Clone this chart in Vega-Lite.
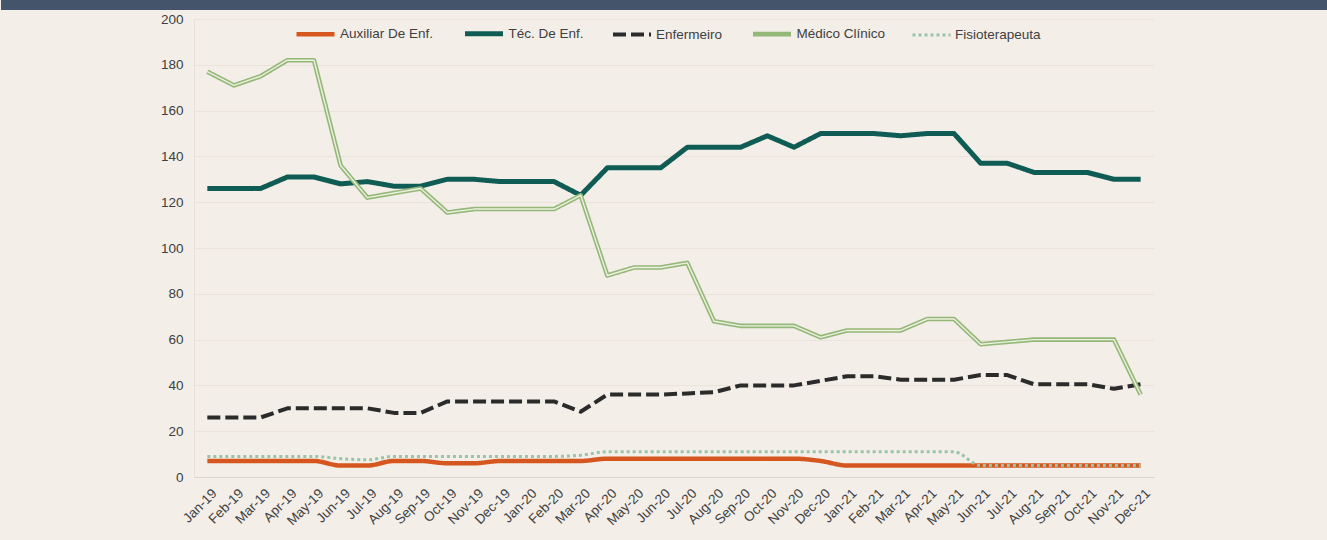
{
  "$schema": "https://vega.github.io/schema/vega-lite/v6.json",
  "background": "#f3eee8",
  "padding": {"left": 0, "right": 0, "top": 0, "bottom": 14},
  "spacing": 2,
  "datasets": {
    "series": [
      {"mes": "Jan-19", "serie": "Auxiliar De Enf.", "valor": 7},
      {"mes": "Feb-19", "serie": "Auxiliar De Enf.", "valor": 7},
      {"mes": "Mar-19", "serie": "Auxiliar De Enf.", "valor": 7},
      {"mes": "Apr-19", "serie": "Auxiliar De Enf.", "valor": 7},
      {"mes": "May-19", "serie": "Auxiliar De Enf.", "valor": 7},
      {"mes": "Jun-19", "serie": "Auxiliar De Enf.", "valor": 5},
      {"mes": "Jul-19", "serie": "Auxiliar De Enf.", "valor": 5},
      {"mes": "Aug-19", "serie": "Auxiliar De Enf.", "valor": 7},
      {"mes": "Sep-19", "serie": "Auxiliar De Enf.", "valor": 7},
      {"mes": "Oct-19", "serie": "Auxiliar De Enf.", "valor": 6},
      {"mes": "Nov-19", "serie": "Auxiliar De Enf.", "valor": 6},
      {"mes": "Dec-19", "serie": "Auxiliar De Enf.", "valor": 7},
      {"mes": "Jan-20", "serie": "Auxiliar De Enf.", "valor": 7},
      {"mes": "Feb-20", "serie": "Auxiliar De Enf.", "valor": 7},
      {"mes": "Mar-20", "serie": "Auxiliar De Enf.", "valor": 7},
      {"mes": "Apr-20", "serie": "Auxiliar De Enf.", "valor": 8},
      {"mes": "May-20", "serie": "Auxiliar De Enf.", "valor": 8},
      {"mes": "Jun-20", "serie": "Auxiliar De Enf.", "valor": 8},
      {"mes": "Jul-20", "serie": "Auxiliar De Enf.", "valor": 8},
      {"mes": "Aug-20", "serie": "Auxiliar De Enf.", "valor": 8},
      {"mes": "Sep-20", "serie": "Auxiliar De Enf.", "valor": 8},
      {"mes": "Oct-20", "serie": "Auxiliar De Enf.", "valor": 8},
      {"mes": "Nov-20", "serie": "Auxiliar De Enf.", "valor": 8},
      {"mes": "Dec-20", "serie": "Auxiliar De Enf.", "valor": 7},
      {"mes": "Jan-21", "serie": "Auxiliar De Enf.", "valor": 5},
      {"mes": "Feb-21", "serie": "Auxiliar De Enf.", "valor": 5},
      {"mes": "Mar-21", "serie": "Auxiliar De Enf.", "valor": 5},
      {"mes": "Apr-21", "serie": "Auxiliar De Enf.", "valor": 5},
      {"mes": "May-21", "serie": "Auxiliar De Enf.", "valor": 5},
      {"mes": "Jun-21", "serie": "Auxiliar De Enf.", "valor": 5},
      {"mes": "Jul-21", "serie": "Auxiliar De Enf.", "valor": 5},
      {"mes": "Aug-21", "serie": "Auxiliar De Enf.", "valor": 5},
      {"mes": "Sep-21", "serie": "Auxiliar De Enf.", "valor": 5},
      {"mes": "Oct-21", "serie": "Auxiliar De Enf.", "valor": 5},
      {"mes": "Nov-21", "serie": "Auxiliar De Enf.", "valor": 5},
      {"mes": "Dec-21", "serie": "Auxiliar De Enf.", "valor": 5},

      {"mes": "Jan-19", "serie": "Téc. De Enf.", "valor": 126},
      {"mes": "Feb-19", "serie": "Téc. De Enf.", "valor": 126},
      {"mes": "Mar-19", "serie": "Téc. De Enf.", "valor": 126},
      {"mes": "Apr-19", "serie": "Téc. De Enf.", "valor": 131},
      {"mes": "May-19", "serie": "Téc. De Enf.", "valor": 131},
      {"mes": "Jun-19", "serie": "Téc. De Enf.", "valor": 128},
      {"mes": "Jul-19", "serie": "Téc. De Enf.", "valor": 129},
      {"mes": "Aug-19", "serie": "Téc. De Enf.", "valor": 127},
      {"mes": "Sep-19", "serie": "Téc. De Enf.", "valor": 127},
      {"mes": "Oct-19", "serie": "Téc. De Enf.", "valor": 130},
      {"mes": "Nov-19", "serie": "Téc. De Enf.", "valor": 130},
      {"mes": "Dec-19", "serie": "Téc. De Enf.", "valor": 129},
      {"mes": "Jan-20", "serie": "Téc. De Enf.", "valor": 129},
      {"mes": "Feb-20", "serie": "Téc. De Enf.", "valor": 129},
      {"mes": "Mar-20", "serie": "Téc. De Enf.", "valor": 123},
      {"mes": "Apr-20", "serie": "Téc. De Enf.", "valor": 135},
      {"mes": "May-20", "serie": "Téc. De Enf.", "valor": 135},
      {"mes": "Jun-20", "serie": "Téc. De Enf.", "valor": 135},
      {"mes": "Jul-20", "serie": "Téc. De Enf.", "valor": 144},
      {"mes": "Aug-20", "serie": "Téc. De Enf.", "valor": 144},
      {"mes": "Sep-20", "serie": "Téc. De Enf.", "valor": 144},
      {"mes": "Oct-20", "serie": "Téc. De Enf.", "valor": 149},
      {"mes": "Nov-20", "serie": "Téc. De Enf.", "valor": 144},
      {"mes": "Dec-20", "serie": "Téc. De Enf.", "valor": 150},
      {"mes": "Jan-21", "serie": "Téc. De Enf.", "valor": 150},
      {"mes": "Feb-21", "serie": "Téc. De Enf.", "valor": 150},
      {"mes": "Mar-21", "serie": "Téc. De Enf.", "valor": 149},
      {"mes": "Apr-21", "serie": "Téc. De Enf.", "valor": 150},
      {"mes": "May-21", "serie": "Téc. De Enf.", "valor": 150},
      {"mes": "Jun-21", "serie": "Téc. De Enf.", "valor": 137},
      {"mes": "Jul-21", "serie": "Téc. De Enf.", "valor": 137},
      {"mes": "Aug-21", "serie": "Téc. De Enf.", "valor": 133},
      {"mes": "Sep-21", "serie": "Téc. De Enf.", "valor": 133},
      {"mes": "Oct-21", "serie": "Téc. De Enf.", "valor": 133},
      {"mes": "Nov-21", "serie": "Téc. De Enf.", "valor": 130},
      {"mes": "Dec-21", "serie": "Téc. De Enf.", "valor": 130},

      {"mes": "Jan-19", "serie": "Enfermeiro", "valor": 26},
      {"mes": "Feb-19", "serie": "Enfermeiro", "valor": 26},
      {"mes": "Mar-19", "serie": "Enfermeiro", "valor": 26},
      {"mes": "Apr-19", "serie": "Enfermeiro", "valor": 30},
      {"mes": "May-19", "serie": "Enfermeiro", "valor": 30},
      {"mes": "Jun-19", "serie": "Enfermeiro", "valor": 30},
      {"mes": "Jul-19", "serie": "Enfermeiro", "valor": 30},
      {"mes": "Aug-19", "serie": "Enfermeiro", "valor": 28},
      {"mes": "Sep-19", "serie": "Enfermeiro", "valor": 28},
      {"mes": "Oct-19", "serie": "Enfermeiro", "valor": 33},
      {"mes": "Nov-19", "serie": "Enfermeiro", "valor": 33},
      {"mes": "Dec-19", "serie": "Enfermeiro", "valor": 33},
      {"mes": "Jan-20", "serie": "Enfermeiro", "valor": 33},
      {"mes": "Feb-20", "serie": "Enfermeiro", "valor": 33},
      {"mes": "Mar-20", "serie": "Enfermeiro", "valor": 28.5},
      {"mes": "Apr-20", "serie": "Enfermeiro", "valor": 36},
      {"mes": "May-20", "serie": "Enfermeiro", "valor": 36},
      {"mes": "Jun-20", "serie": "Enfermeiro", "valor": 36},
      {"mes": "Jul-20", "serie": "Enfermeiro", "valor": 36.5},
      {"mes": "Aug-20", "serie": "Enfermeiro", "valor": 37},
      {"mes": "Sep-20", "serie": "Enfermeiro", "valor": 40},
      {"mes": "Oct-20", "serie": "Enfermeiro", "valor": 40},
      {"mes": "Nov-20", "serie": "Enfermeiro", "valor": 40},
      {"mes": "Dec-20", "serie": "Enfermeiro", "valor": 42},
      {"mes": "Jan-21", "serie": "Enfermeiro", "valor": 44},
      {"mes": "Feb-21", "serie": "Enfermeiro", "valor": 44},
      {"mes": "Mar-21", "serie": "Enfermeiro", "valor": 42.5},
      {"mes": "Apr-21", "serie": "Enfermeiro", "valor": 42.5},
      {"mes": "May-21", "serie": "Enfermeiro", "valor": 42.5},
      {"mes": "Jun-21", "serie": "Enfermeiro", "valor": 44.5},
      {"mes": "Jul-21", "serie": "Enfermeiro", "valor": 44.5},
      {"mes": "Aug-21", "serie": "Enfermeiro", "valor": 40.5},
      {"mes": "Sep-21", "serie": "Enfermeiro", "valor": 40.5},
      {"mes": "Oct-21", "serie": "Enfermeiro", "valor": 40.5},
      {"mes": "Nov-21", "serie": "Enfermeiro", "valor": 38.5},
      {"mes": "Dec-21", "serie": "Enfermeiro", "valor": 40.5},

      {"mes": "Jan-19", "serie": "Médico Clínico", "valor": 177},
      {"mes": "Feb-19", "serie": "Médico Clínico", "valor": 171},
      {"mes": "Mar-19", "serie": "Médico Clínico", "valor": 175},
      {"mes": "Apr-19", "serie": "Médico Clínico", "valor": 182},
      {"mes": "May-19", "serie": "Médico Clínico", "valor": 182},
      {"mes": "Jun-19", "serie": "Médico Clínico", "valor": 136},
      {"mes": "Jul-19", "serie": "Médico Clínico", "valor": 122},
      {"mes": "Aug-19", "serie": "Médico Clínico", "valor": 124},
      {"mes": "Sep-19", "serie": "Médico Clínico", "valor": 126},
      {"mes": "Oct-19", "serie": "Médico Clínico", "valor": 115.5},
      {"mes": "Nov-19", "serie": "Médico Clínico", "valor": 117},
      {"mes": "Dec-19", "serie": "Médico Clínico", "valor": 117},
      {"mes": "Jan-20", "serie": "Médico Clínico", "valor": 117},
      {"mes": "Feb-20", "serie": "Médico Clínico", "valor": 117},
      {"mes": "Mar-20", "serie": "Médico Clínico", "valor": 123},
      {"mes": "Apr-20", "serie": "Médico Clínico", "valor": 88},
      {"mes": "May-20", "serie": "Médico Clínico", "valor": 91.5},
      {"mes": "Jun-20", "serie": "Médico Clínico", "valor": 91.5},
      {"mes": "Jul-20", "serie": "Médico Clínico", "valor": 93.5},
      {"mes": "Aug-20", "serie": "Médico Clínico", "valor": 68},
      {"mes": "Sep-20", "serie": "Médico Clínico", "valor": 66},
      {"mes": "Oct-20", "serie": "Médico Clínico", "valor": 66},
      {"mes": "Nov-20", "serie": "Médico Clínico", "valor": 66},
      {"mes": "Dec-20", "serie": "Médico Clínico", "valor": 61},
      {"mes": "Jan-21", "serie": "Médico Clínico", "valor": 64},
      {"mes": "Feb-21", "serie": "Médico Clínico", "valor": 64},
      {"mes": "Mar-21", "serie": "Médico Clínico", "valor": 64},
      {"mes": "Apr-21", "serie": "Médico Clínico", "valor": 69},
      {"mes": "May-21", "serie": "Médico Clínico", "valor": 69},
      {"mes": "Jun-21", "serie": "Médico Clínico", "valor": 58},
      {"mes": "Jul-21", "serie": "Médico Clínico", "valor": 59},
      {"mes": "Aug-21", "serie": "Médico Clínico", "valor": 60},
      {"mes": "Sep-21", "serie": "Médico Clínico", "valor": 60},
      {"mes": "Oct-21", "serie": "Médico Clínico", "valor": 60},
      {"mes": "Nov-21", "serie": "Médico Clínico", "valor": 60},
      {"mes": "Dec-21", "serie": "Médico Clínico", "valor": 36},

      {"mes": "Jan-19", "serie": "Fisioterapeuta", "valor": 9},
      {"mes": "Feb-19", "serie": "Fisioterapeuta", "valor": 9},
      {"mes": "Mar-19", "serie": "Fisioterapeuta", "valor": 9},
      {"mes": "Apr-19", "serie": "Fisioterapeuta", "valor": 9},
      {"mes": "May-19", "serie": "Fisioterapeuta", "valor": 9},
      {"mes": "Jun-19", "serie": "Fisioterapeuta", "valor": 8},
      {"mes": "Jul-19", "serie": "Fisioterapeuta", "valor": 7.5},
      {"mes": "Aug-19", "serie": "Fisioterapeuta", "valor": 9},
      {"mes": "Sep-19", "serie": "Fisioterapeuta", "valor": 9},
      {"mes": "Oct-19", "serie": "Fisioterapeuta", "valor": 9},
      {"mes": "Nov-19", "serie": "Fisioterapeuta", "valor": 9},
      {"mes": "Dec-19", "serie": "Fisioterapeuta", "valor": 9},
      {"mes": "Jan-20", "serie": "Fisioterapeuta", "valor": 9},
      {"mes": "Feb-20", "serie": "Fisioterapeuta", "valor": 9},
      {"mes": "Mar-20", "serie": "Fisioterapeuta", "valor": 9.5},
      {"mes": "Apr-20", "serie": "Fisioterapeuta", "valor": 11},
      {"mes": "May-20", "serie": "Fisioterapeuta", "valor": 11},
      {"mes": "Jun-20", "serie": "Fisioterapeuta", "valor": 11},
      {"mes": "Jul-20", "serie": "Fisioterapeuta", "valor": 11},
      {"mes": "Aug-20", "serie": "Fisioterapeuta", "valor": 11},
      {"mes": "Sep-20", "serie": "Fisioterapeuta", "valor": 11},
      {"mes": "Oct-20", "serie": "Fisioterapeuta", "valor": 11},
      {"mes": "Nov-20", "serie": "Fisioterapeuta", "valor": 11},
      {"mes": "Dec-20", "serie": "Fisioterapeuta", "valor": 11},
      {"mes": "Jan-21", "serie": "Fisioterapeuta", "valor": 11},
      {"mes": "Feb-21", "serie": "Fisioterapeuta", "valor": 11},
      {"mes": "Mar-21", "serie": "Fisioterapeuta", "valor": 11},
      {"mes": "Apr-21", "serie": "Fisioterapeuta", "valor": 11},
      {"mes": "May-21", "serie": "Fisioterapeuta", "valor": 11},
      {"mes": "Jun-21", "serie": "Fisioterapeuta", "valor": 5},
      {"mes": "Jul-21", "serie": "Fisioterapeuta", "valor": 5},
      {"mes": "Aug-21", "serie": "Fisioterapeuta", "valor": 5},
      {"mes": "Sep-21", "serie": "Fisioterapeuta", "valor": 5},
      {"mes": "Oct-21", "serie": "Fisioterapeuta", "valor": 5},
      {"mes": "Nov-21", "serie": "Fisioterapeuta", "valor": 5},
      {"mes": "Dec-21", "serie": "Fisioterapeuta", "valor": 5}
    ]
  },
  "vconcat": [
    {
      "width": 1133,
      "height": 10,
      "data": {"values": []},
      "mark": "point",
      "view": {"fill": "#44546a", "stroke": null},
      "encoding": {
        "y": {
          "field": "faixa",
          "type": "quantitative",
          "title": null,
          "scale": {"domain": [0, 1]},
          "axis": {
            "values": [0.1, 0.2, 0.3, 0.4, 0.5, 0.6, 0.7, 0.8, 0.9],
            "translate": 0,
            "ticks": true,
            "tickSize": 193,
            "tickWidth": 2,
            "tickColor": "#44546a",
            "tickCap": "butt",
            "labels": false,
            "domain": false,
            "grid": false,
            "minExtent": 194,
            "maxExtent": 194
          }
        }
      }
    },
    {
      "width": 960,
      "height": 458,
      "data": {"name": "series"},
      "encoding": {
        "x": {
          "field": "mes",
          "type": "ordinal",
          "title": null,
          "scale": {
            "type": "point",
            "padding": 0.5,
            "domain": ["Jan-19","Feb-19","Mar-19","Apr-19","May-19","Jun-19","Jul-19","Aug-19","Sep-19","Oct-19","Nov-19","Dec-19",
                       "Jan-20","Feb-20","Mar-20","Apr-20","May-20","Jun-20","Jul-20","Aug-20","Sep-20","Oct-20","Nov-20","Dec-20",
                       "Jan-21","Feb-21","Mar-21","Apr-21","May-21","Jun-21","Jul-21","Aug-21","Sep-21","Oct-21","Nov-21","Dec-21"]
          },
          "axis": {
            "labelAngle": -45,
            "labelAlign": "right",
            "labelBaseline": "top",
            "labelPadding": 9,
            "labelOffset": 2,
            "ticks": false,
            "grid": false,
            "domainColor": "#d9d4cc"
          }
        },
        "y": {
          "field": "valor",
          "type": "quantitative",
          "title": null,
          "scale": {"domain": [0, 200], "nice": false},
          "axis": {
            "values": [0, 20, 40, 60, 80, 100, 120, 140, 160, 180, 200],
            "grid": true,
            "gridColor": "#e9e3db",
            "domainColor": "#e6e0d8",
            "ticks": false,
            "labelPadding": 11,
            "minExtent": 194,
            "maxExtent": 194
          }
        }
      },
      "layer": [
        {
          "transform": [{"filter": {"field": "serie", "equal": "Auxiliar De Enf."}}],
          "mark": {"type": "line", "interpolate": "monotone", "strokeCap": "butt", "strokeJoin": "round"},
          "encoding": {
            "color": {"field": "serie", "type": "nominal", "title": null,
              "scale": {"domain": ["Auxiliar De Enf.", "Téc. De Enf.", "Enfermeiro", "Médico Clínico", "Fisioterapeuta"],
                        "range": ["#d5561e", "#0f5c55", "#2b2b2b", "#93b878", "#9ac4a6"]}},
            "strokeDash": {"field": "serie", "type": "nominal", "title": null,
              "scale": {"domain": ["Auxiliar De Enf.", "Téc. De Enf.", "Enfermeiro", "Médico Clínico", "Fisioterapeuta"],
                        "range": [[1, 0], [1, 0], [13, 5], [1, 0], [3, 3]]}},
            "strokeWidth": {"field": "serie", "type": "nominal", "title": null,
              "scale": {"type": "ordinal", "domain": ["Auxiliar De Enf.", "Téc. De Enf.", "Enfermeiro", "Médico Clínico", "Fisioterapeuta"],
                        "range": [4.5, 5, 4, 4.6, 3]}}
          }
        },
        {
          "transform": [{"filter": {"field": "serie", "oneOf": ["Téc. De Enf.", "Enfermeiro", "Médico Clínico"]}}],
          "mark": {"type": "line", "strokeCap": "butt", "strokeJoin": "round"},
          "encoding": {
            "color": {"field": "serie", "type": "nominal", "title": null,
              "scale": {"domain": ["Auxiliar De Enf.", "Téc. De Enf.", "Enfermeiro", "Médico Clínico", "Fisioterapeuta"],
                        "range": ["#d5561e", "#0f5c55", "#2b2b2b", "#93b878", "#9ac4a6"]}},
            "strokeDash": {"field": "serie", "type": "nominal", "title": null,
              "scale": {"domain": ["Auxiliar De Enf.", "Téc. De Enf.", "Enfermeiro", "Médico Clínico", "Fisioterapeuta"],
                        "range": [[1, 0], [1, 0], [13, 5], [1, 0], [3, 3]]}},
            "strokeWidth": {"field": "serie", "type": "nominal", "title": null,
              "scale": {"type": "ordinal", "domain": ["Auxiliar De Enf.", "Téc. De Enf.", "Enfermeiro", "Médico Clínico", "Fisioterapeuta"],
                        "range": [4.5, 5, 4, 4.6, 3]}}
          }
        },
        {
          "transform": [{"filter": {"field": "serie", "equal": "Médico Clínico"}}],
          "mark": {"type": "line", "color": "#eef0e0", "strokeWidth": 1.4, "strokeJoin": "round"}
        },
        {
          "transform": [{"filter": {"field": "serie", "equal": "Fisioterapeuta"}}],
          "mark": {"type": "line", "interpolate": "monotone", "strokeCap": "butt", "strokeJoin": "round"},
          "encoding": {
            "color": {"field": "serie", "type": "nominal", "title": null,
              "scale": {"domain": ["Auxiliar De Enf.", "Téc. De Enf.", "Enfermeiro", "Médico Clínico", "Fisioterapeuta"],
                        "range": ["#d5561e", "#0f5c55", "#2b2b2b", "#93b878", "#9ac4a6"]}},
            "strokeDash": {"field": "serie", "type": "nominal", "title": null,
              "scale": {"domain": ["Auxiliar De Enf.", "Téc. De Enf.", "Enfermeiro", "Médico Clínico", "Fisioterapeuta"],
                        "range": [[1, 0], [1, 0], [13, 5], [1, 0], [3, 3]]}},
            "strokeWidth": {"field": "serie", "type": "nominal", "title": null,
              "scale": {"type": "ordinal", "domain": ["Auxiliar De Enf.", "Téc. De Enf.", "Enfermeiro", "Médico Clínico", "Fisioterapeuta"],
                        "range": [4.5, 5, 4, 4.6, 3]}}
          }
        }
      ]
    }
  ],
  "config": {
    "font": "Liberation Sans",
    "view": {"stroke": null},
    "axis": {"labelFontSize": 13.5, "labelColor": "#404040"},
    "legend": {
      "orient": "none",
      "legendX": 100,
      "legendY": 12,
      "direction": "horizontal",
      "symbolType": "stroke",
      "symbolSize": 1444,
      "labelFontSize": 13.5,
      "labelColor": "#404040",
      "labelOffset": 3,
      "columnPadding": 20.5,
      "padding": 0
    }
  }
}
